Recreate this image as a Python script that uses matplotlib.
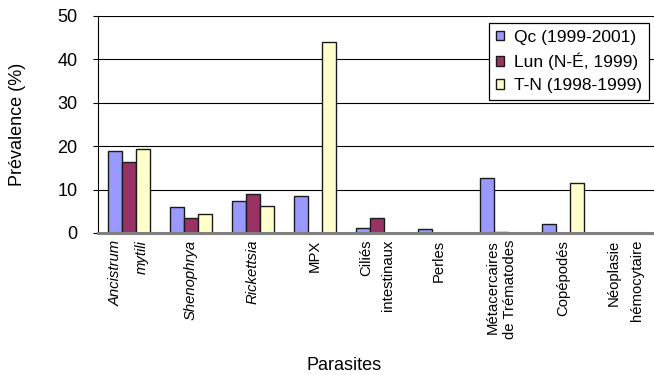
import numpy as np
import matplotlib
matplotlib.use("Agg")
import matplotlib.pyplot as plt

plt.rcParams['font.family'] = ['Liberation Sans', 'DejaVu Sans']

categories = ["Ancistrum\nmytili", "Shenophrya", "Rickettsia", "MPX",
              "Ciliés\nintestinaux", "Perles", "Métacercaires\nde Trématodes",
              "Copépodés", "Néoplasie\nhémocytaire"]
italic_cats = {0, 1, 2}
series_names = ["Qc (1999-2001)", "Lun (N-É, 1999)", "T-N (1998-1999)"]
qc = [19.0, 5.9, 7.3, 8.5, 1.2, 0.9, 12.6, 2.1, 0.0]
lun = [16.4, 3.4, 9.1, 0.0, 3.4, 0.0, 0.2, 0.0, 0.0]
tn = [19.3, 4.3, 6.2, 44.1, 0.0, 0.0, 0.0, 11.5, 0.0]
colors = ["#9999FF", "#993366", "#FFFFCC"]

# spacing between the two lines of the wrapped category labels
line_gaps = [2.1, 1.0, 1.0, 1.0, 1.7, 1.0, 1.3, 1.0, 1.85]

W, H = 654, 375
fig = plt.figure(figsize=(W / 100, H / 100), dpi=100)
ax = fig.add_axes([98 / W, 1 - 233 / H, 558 / W, 217 / H])

x = np.arange(len(categories))
w = 0.23
for i, (vals, col, name) in enumerate(zip([qc, lun, tn], colors, series_names)):
    ax.bar(x + (i - 1) * w, vals, w, color=col, edgecolor="#1a1a1a",
           linewidth=1.0, label=name, zorder=3)

ax.set_xlim(-0.5, len(categories) - 0.5)
ax.set_ylim(0, 50)
ax.set_yticks([0, 10, 20, 30, 40, 50])
ax.yaxis.grid(True, color="black", linewidth=0.8, zorder=0)
ax.tick_params(axis='y', labelsize=13, length=3.8, width=0.8,
               direction='out', pad=11)
ax.tick_params(axis='x', length=0)
for s in ["top", "right"]:
    ax.spines[s].set_visible(False)
ax.spines["left"].set_linewidth(0.8)
ax.spines["bottom"].set_color("#808080")
ax.spines["bottom"].set_linewidth(2.2)
ax.spines["bottom"].set_zorder(4)

ax.set_xticks(x)
ax.set_xticklabels([])
for i, lab in enumerate(categories):
    ax.text(x[i], -1.6, lab, rotation=90, ha="center", va="top",
            fontsize=10.7, linespacing=line_gaps[i],
            style="italic" if i in italic_cats else "normal",
            multialignment="right")

ax.set_ylabel("Prévalence (%)", fontsize=13)
ax.yaxis.set_label_coords(-72 / 558, 0.5)
fig.text(344 / W, 1 - 365 / H, "Parasites", ha="center", va="center",
         fontsize=13)

leg = ax.legend(loc="upper right", bbox_to_anchor=(649 / W, 1 - 23 / H),
                bbox_transform=fig.transFigure, fontsize=12.5,
                fancybox=False, edgecolor="black", framealpha=1,
                handlelength=0.45, handleheight=0.45, handletextpad=0.6,
                borderpad=0.4, labelspacing=0.45, borderaxespad=0)
leg.get_frame().set_linewidth(0.9)
leg.set_zorder(5)

fig.savefig("out.png", dpi=100)
